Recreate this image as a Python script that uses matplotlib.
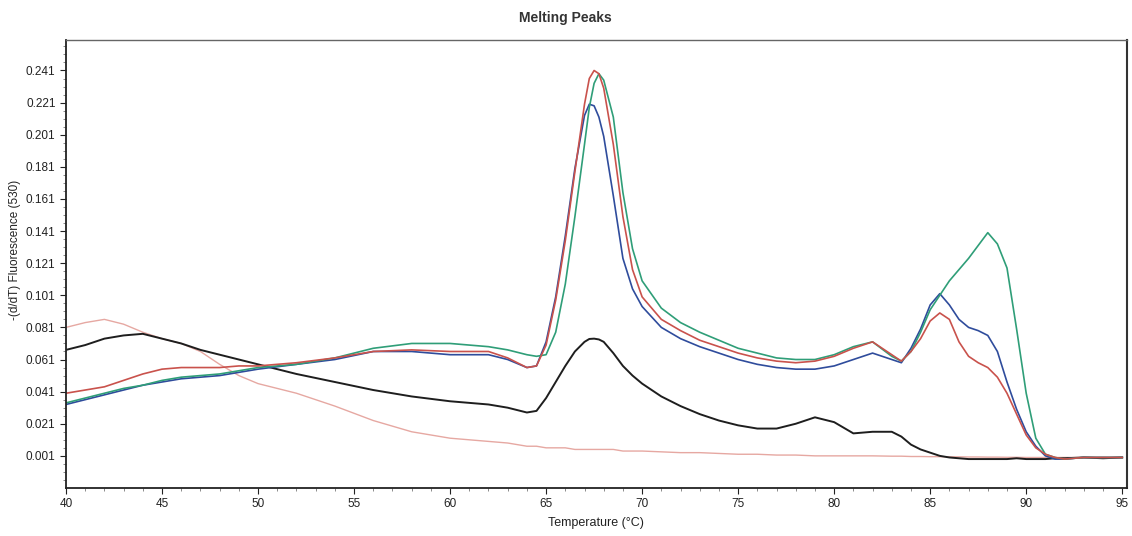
import matplotlib
matplotlib.use("Agg")
import matplotlib.pyplot as plt
from matplotlib.ticker import MultipleLocator, FixedLocator

plt.rcParams['font.family'] = ['Liberation Sans', 'DejaVu Sans']

# ==== data ====
temp = [40, 41, 42, 43, 44, 45, 46, 47, 48, 49, 50, 52, 54, 56, 58, 60, 62, 63, 64, 64.5,
        65, 65.5, 66, 66.5, 67, 67.25, 67.5, 67.75, 68, 68.5, 69, 69.5, 70, 71, 72, 73, 74, 75, 76, 77, 78, 79,
        80, 81, 82, 83, 83.5, 84, 84.5, 85, 85.5, 86, 86.5, 87, 87.5, 88, 88.5, 89, 89.5, 90, 90.5, 91,
        91.5, 92, 93, 94, 95]

red = [0.040, 0.042, 0.044, 0.048, 0.052, 0.055, 0.056, 0.056, 0.056, 0.057, 0.057, 0.059, 0.062, 0.066, 0.067, 0.066, 0.066, 0.062, 0.056, 0.057,
       0.070, 0.098, 0.135, 0.178, 0.220, 0.236, 0.241, 0.239, 0.230, 0.195, 0.150, 0.117, 0.100, 0.086, 0.079, 0.073, 0.069, 0.065, 0.062, 0.060, 0.059, 0.060,
       0.063, 0.068, 0.072, 0.064, 0.060, 0.066, 0.074, 0.085, 0.090, 0.086, 0.072, 0.063, 0.059, 0.056, 0.050, 0.040, 0.027, 0.014, 0.006, 0.002,
       0.000, -0.001, 0.000, 0.000, 0.000]

green = [0.034, 0.037, 0.040, 0.043, 0.045, 0.048, 0.050, 0.051, 0.052, 0.054, 0.056, 0.058, 0.062, 0.068, 0.071, 0.071, 0.069, 0.067, 0.064, 0.063,
         0.064, 0.078, 0.108, 0.150, 0.195, 0.218, 0.233, 0.239, 0.235, 0.212, 0.165, 0.130, 0.110, 0.093, 0.084, 0.078, 0.073, 0.068, 0.065, 0.062, 0.061, 0.061,
         0.064, 0.069, 0.072, 0.063, 0.060, 0.066, 0.078, 0.092, 0.101, 0.110, 0.117, 0.124, 0.132, 0.140, 0.133, 0.118, 0.080, 0.040, 0.012, 0.002,
         0.000, -0.001, 0.000, 0.000, 0.000]

blue = [0.033, 0.036, 0.039, 0.042, 0.045, 0.047, 0.049, 0.050, 0.051, 0.053, 0.055, 0.058, 0.061, 0.066, 0.066, 0.064, 0.064, 0.061, 0.056, 0.057,
        0.072, 0.100, 0.138, 0.180, 0.213, 0.220, 0.219, 0.212, 0.200, 0.163, 0.124, 0.105, 0.094, 0.081, 0.074, 0.069, 0.065, 0.061, 0.058, 0.056, 0.055, 0.055,
        0.057, 0.061, 0.065, 0.061, 0.059, 0.068, 0.080, 0.095, 0.102, 0.095, 0.086, 0.081, 0.079, 0.076, 0.066, 0.047, 0.030, 0.016, 0.007, 0.001,
        -0.001, -0.001, 0.000, 0.000, 0.000]

black = [0.067, 0.070, 0.074, 0.076, 0.077, 0.074, 0.071, 0.067, 0.064, 0.061, 0.058, 0.052, 0.047, 0.042, 0.038, 0.035, 0.033, 0.031, 0.028, 0.029,
         0.037, 0.047, 0.057, 0.066, 0.072, 0.0738, 0.074, 0.0735, 0.072, 0.065, 0.057, 0.051, 0.046, 0.038, 0.032, 0.027, 0.023, 0.020, 0.018, 0.018, 0.021, 0.025,
         0.022, 0.015, 0.016, 0.016, 0.013, 0.008, 0.005, 0.003, 0.001, 0.000, -0.0005, -0.001, -0.001, -0.001, -0.001, -0.001, -0.0005, -0.001, -0.001, -0.001,
         -0.0005, -0.0005, 0.000, -0.0005, 0.000]

pink = [0.081, 0.084, 0.086, 0.083, 0.078, 0.074, 0.071, 0.066, 0.058, 0.051, 0.046, 0.040, 0.032, 0.023, 0.016, 0.012, 0.010, 0.009, 0.007, 0.007,
        0.006, 0.006, 0.006, 0.005, 0.005, 0.005, 0.005, 0.005, 0.005, 0.005, 0.004, 0.004, 0.004, 0.0035, 0.003, 0.003, 0.0025, 0.002, 0.002, 0.0015, 0.0015, 0.001,
        0.001, 0.001, 0.001, 0.0008, 0.0008, 0.0006, 0.0006, 0.0005, 0.0005, 0.0004, 0.0004, 0.0003, 0.0003, 0.0002, 0.0002, 0.0001, 0.0001, 0.0, 0.0, 0.0,
        0.0, 0.0, 0.0, 0.0, 0.0]

yticks = [0.001, 0.021, 0.041, 0.061, 0.081, 0.101, 0.121, 0.141, 0.161, 0.181, 0.201, 0.221, 0.241]
xticks = [40, 45, 50, 55, 60, 65, 70, 75, 80, 85, 90, 95]

# ==== figure ====
fig = plt.figure(figsize=(11.32, 5.36), dpi=100)
ax = fig.add_axes([0.0583, 0.0896, 0.9373, 0.8358])

ax.plot(temp, pink, color='#e6a8a2', lw=1.0)
ax.plot(temp, black, color='#1e1e1e', lw=1.4)
ax.plot(temp, blue, color='#2f4c9c', lw=1.2)
ax.plot(temp, green, color='#2f9e78', lw=1.2)
ax.plot(temp, red, color='#c9524c', lw=1.2)

ax.set_xlim(40, 95.25)
ax.set_ylim(-0.019, 0.260)

ax.xaxis.set_major_locator(FixedLocator(xticks))
ax.xaxis.set_minor_locator(MultipleLocator(1))
ax.yaxis.set_major_locator(FixedLocator(yticks))
ax.yaxis.set_minor_locator(FixedLocator([0.001 + 0.005 * i for i in range(-3, 52)]))
ax.set_yticklabels(['%.3f' % v for v in yticks])
ax.tick_params(axis='both', which='major', length=4, width=0.8, labelsize=8.5, colors='#222222')
ax.tick_params(axis='both', which='minor', length=2, width=0.6, colors='#777777')

for s in ['left', 'bottom']:
    ax.spines[s].set_color('#222222')
    ax.spines[s].set_linewidth(1.3)
ax.spines['top'].set_color('#666666')
ax.spines['top'].set_linewidth(1.0)
ax.spines['right'].set_color('#333333')
ax.spines['right'].set_linewidth(1.5)

fig.text(565 / 1132, 1 - 18 / 536, 'Melting Peaks', ha='center', va='center',
         fontsize=10, fontweight='bold', color='#333333')
fig.text(596 / 1132, 1 - 523 / 536, 'Temperature (°C)', ha='center', va='center',
         fontsize=9, color='#222222')
fig.text(15 / 1132, 1 - 250 / 536, '-(d/dT) Fluorescence (530)', ha='center', va='center',
         rotation=90, fontsize=8.5, color='#222222')

fig.savefig('out.png', dpi=100)
